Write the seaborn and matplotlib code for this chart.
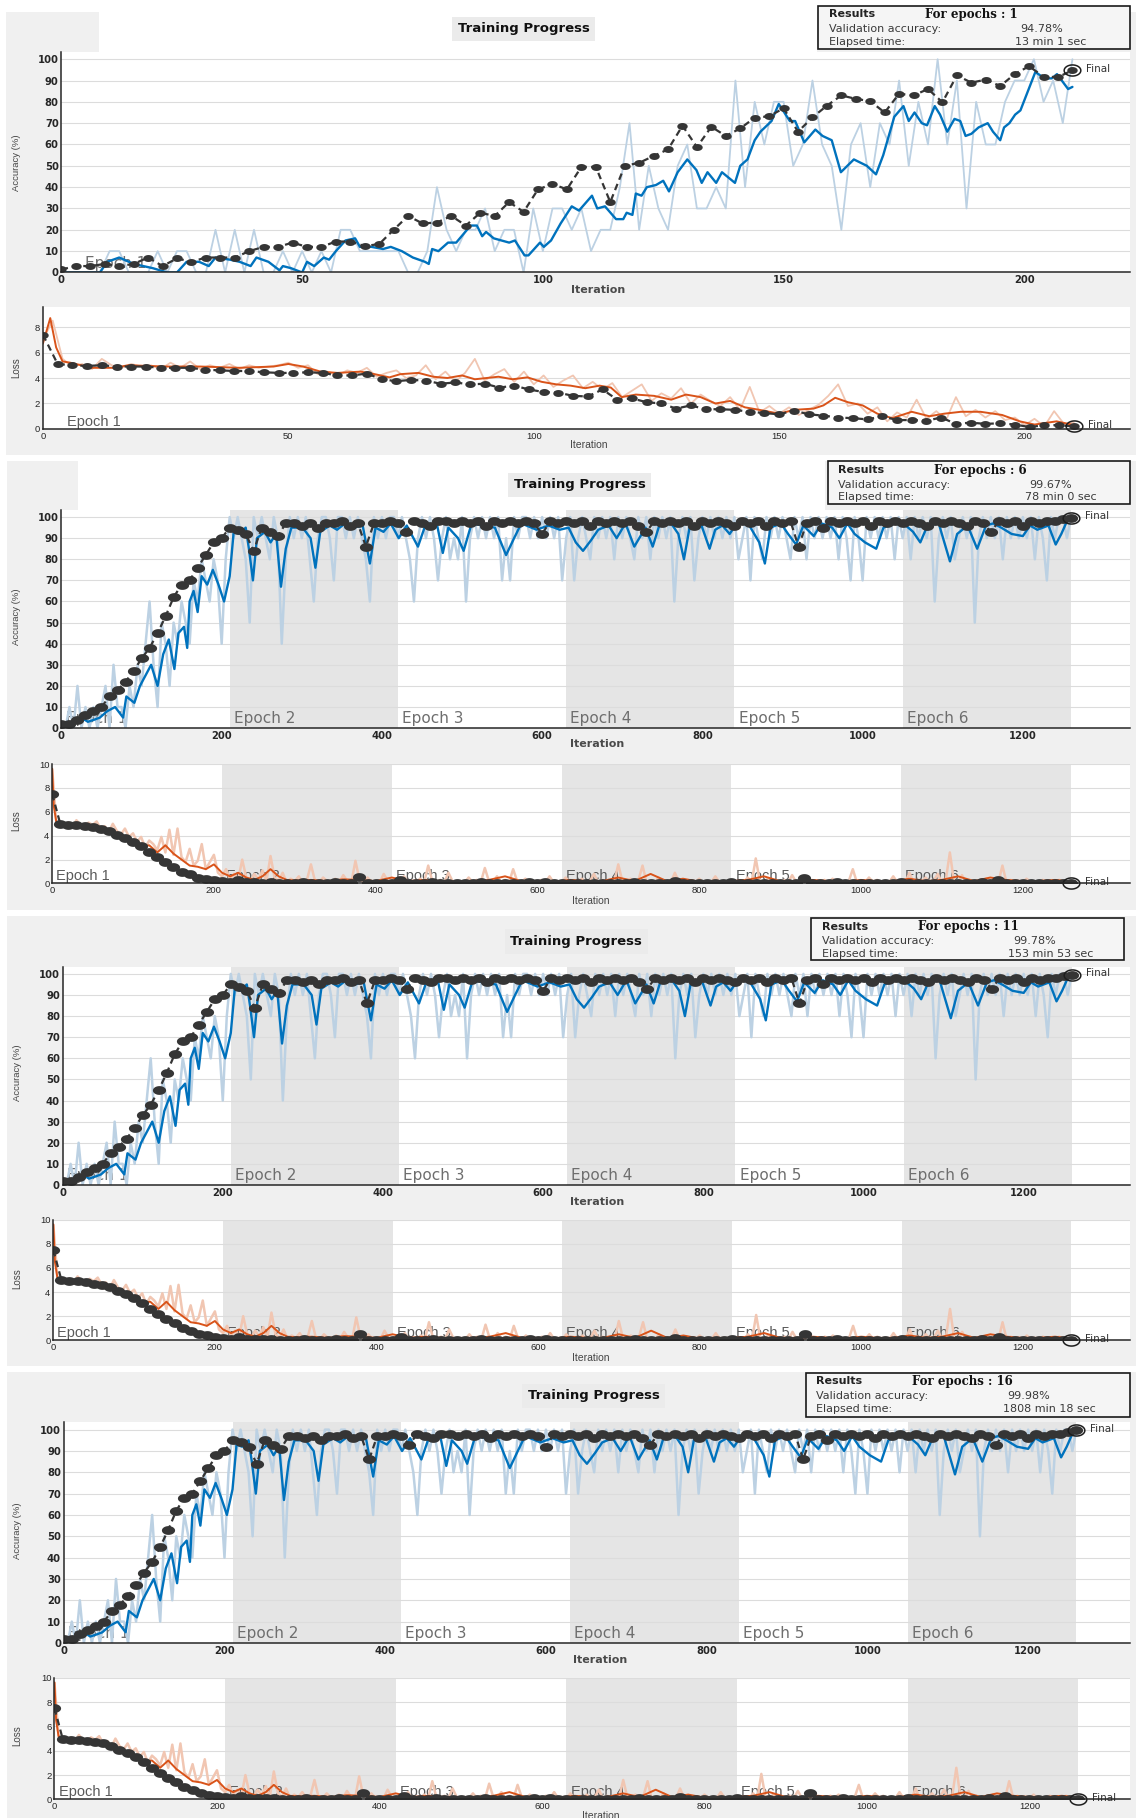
import numpy as np
import matplotlib
matplotlib.use("Agg")
import matplotlib.pyplot as plt
import matplotlib.path as mpath
from matplotlib.patches import Rectangle
import seaborn as sns

# ---------------- values ----------------
epochs_done = [1, 6, 11, 16]
val_acc_text = ["94.78%", "99.67%", "99.78%", "99.98%"]
elapsed_text = ["13 min 1 sec", "78 min 0 sec", "153 min 53 sec", "1808 min 18 sec"]
edges_run1 = [0, 210]
edges_run6 = [0, 210, 420, 630, 840, 1050, 1260]

# run 1: one epoch, raw values every 2 iterations, validation every 3
acc1_raw = [0, 0, 0, 0, 0, 10, 10, 0, 0, 0,
            10, 0, 10, 10, 0, 0, 20, 0, 20, 0,
            20, 0, 0, 10, 0, 10, 0, 10, 0, 20,
            20, 10, 10, 10, 10, 10, 0, 0, 10, 40,
            20, 10, 20, 20, 30, 10, 20, 20, 0, 30,
            10, 30, 30, 20, 30, 10, 20, 20, 40, 70,
            20, 50, 30, 20, 50, 60, 30, 30, 40, 30,
            90, 40, 80, 60, 80, 80, 50, 60, 90, 60,
            50, 20, 60, 70, 40, 70, 60, 90, 50, 80,
            60, 100, 60, 90, 30, 80, 60, 60, 80, 90,
            90, 100, 80, 90, 70, 100]
acc1_smooth = [(0, 0), (8, 0), (9.5, 5), (12, 7), (15, 4), (19, 2), (22, 0), (24, 0), (26, 5),
               (28.6, 5), (30.6, 3), (32, 7), (35, 6), (37, 5), (39.3, 3), (40.5, 7), (43, 5),
               (45.3, 1), (46, 3), (47.7, 2), (50, 0), (51, 5), (52.5, 3), (54.5, 7), (55.6, 6),
               (57, 10), (59, 15), (61, 16), (62, 12), (64.4, 12), (66.8, 11), (68.4, 12),
               (70.7, 10), (73, 7), (75.5, 5), (76.3, 4), (77, 11), (78.3, 10), (80.3, 14),
               (82, 14), (85, 22), (86.3, 22), (87.4, 17), (88.2, 19), (89.8, 16), (93, 14),
               (94.2, 15), (96.2, 8), (97, 8), (99.4, 14), (100.2, 12), (101.7, 15), (103.7, 23),
               (106, 31), (107.5, 29), (110.2, 36), (111.3, 30), (112.9, 31), (115.2, 25),
               (116.7, 25), (117.4, 28), (118.6, 27), (119.3, 37), (120.5, 36), (121.6, 40),
               (123.5, 41), (125, 43), (126.2, 38), (128, 47), (130, 53), (131.9, 48), (133, 42),
               (134.2, 47), (136, 42), (137.2, 47), (139.9, 42), (141, 50), (142.5, 53), (144, 62),
               (145.2, 66), (147.5, 71), (149, 79), (151.3, 71), (152.4, 71), (154.3, 61),
               (156.6, 67), (158.1, 64), (160, 62), (161.9, 47), (164.6, 53), (167.3, 50),
               (169.2, 46), (170.7, 55), (173, 73), (174.9, 78), (176, 71), (177.2, 75),
               (178.7, 70), (179.8, 69), (181.4, 78), (182.5, 74), (184, 66), (185.5, 72),
               (186.7, 71), (187.8, 64), (189, 65), (190.5, 68), (192.4, 70), (193.5, 66),
               (195, 62), (195.8, 68), (196.9, 70), (198.1, 74), (199.2, 76), (202.3, 94),
               (204.2, 91), (205.7, 91), (206.8, 93), (209.1, 86), (210, 87)]
acc1_val = [1.4, 3, 3, 4, 3, 4, 7, 3, 6.6, 5,
            7, 7, 7, 10, 12, 12, 14, 12, 12, 14.5,
            14.5, 12.4, 13.3, 20, 26.5, 23, 23.4, 26.5, 22, 28,
            26.5, 33, 28.4, 39, 41.4, 39, 49.5, 49.5, 33, 50,
            51.4, 54.6, 57.7, 68.8, 58.8, 68.3, 64, 67.5, 72.6, 73.2,
            77, 66, 72.7, 78.2, 83, 81.4, 80.3, 75, 83.8, 83,
            86, 79.8, 92.4, 89, 90.4, 87.4, 93, 96.7, 91.8, 91.6,
            94.78]
loss1_raw = [7.0, 8.5, 5.5, 4.9, 5.1, 4.7, 5.5, 5.0, 4.8, 5.1,
             4.9, 5.0, 4.7, 5.2, 4.8, 5.3, 4.7, 5.0, 4.8, 5.1,
             4.7, 5.0, 4.8, 4.9, 5.0, 5.2, 4.8, 5.0, 4.3, 4.5,
             4.2, 4.6, 4.4, 4.8, 4.1, 4.4, 4.6, 4.0, 4.2, 5.0,
             3.9, 4.5, 3.7, 4.4, 5.5, 3.8, 4.3, 4.7, 3.7, 4.5,
             3.5, 4.2, 3.3, 3.8, 4.2, 3.2, 3.7, 3.1, 3.6, 2.5,
             3.0, 3.5, 2.2, 2.8, 2.4, 3.2, 2.0, 2.7, 2.2, 1.8,
             2.5, 1.5, 3.3, 1.3, 1.8, 1.2, 1.7, 1.1, 1.5, 1.9,
             2.6, 3.5, 1.8, 2.0, 1.2, 1.7, 0.6, 1.3, 0.9, 2.3,
             0.8, 1.4, 0.7, 2.5, 1.0, 1.5, 0.9, 1.4, 0.7, 0.9,
             0.3, 0.8, 0.2, 1.4, 0.4, 0.5]
loss1_smooth = [(0, 6.7), (1.5, 8.7), (2.7, 6.4), (4, 5.3), (5.6, 5.2), (10, 4.8), (14.5, 4.8),
                (17.4, 5.0), (25, 4.9), (32, 4.9), (40, 4.8), (47, 4.9), (50, 5.1), (53, 4.9),
                (56.6, 4.5), (60, 4.4), (64.7, 4.5), (67.6, 4.3), (70.6, 4.05), (72.8, 4.3),
                (76.5, 4.4), (79.5, 4.1), (82.4, 4.0), (85.4, 4.2), (88, 3.9), (92.8, 4.1),
                (95.7, 3.9), (98.7, 4.05), (101.6, 3.7), (104.6, 3.5), (107.5, 3.4), (110.5, 3.2),
                (113.4, 3.4), (115.7, 3.25), (117.9, 2.5), (120.8, 2.7), (124.5, 2.6), (128, 2.3),
                (131, 2.7), (134, 2.5), (137, 2.0), (140, 2.2), (143, 1.7), (146, 1.5), (150, 1.2),
                (153, 1.5), (157, 1.6), (159, 1.85), (161.4, 2.45), (164, 2.1), (167, 1.85),
                (170, 1.2), (173, 0.85), (177, 1.35), (180.6, 1.0), (183.6, 1.2), (187, 1.35),
                (191, 1.35), (195.4, 1.1), (199, 0.6), (202, 0.35), (206.5, 0.6), (209.5, 0.35)]
loss1_val = [7.4, 5.1, 5.0, 4.95, 5.0, 4.9, 4.9, 4.9, 4.8, 4.8,
             4.8, 4.65, 4.6, 4.55, 4.55, 4.45, 4.4, 4.4, 4.45, 4.4,
             4.2, 4.2, 4.35, 3.9, 3.75, 3.85, 3.8, 3.55, 3.65, 3.5,
             3.55, 3.25, 3.4, 3.1, 2.9, 2.85, 2.6, 2.55, 3.1, 2.3,
             2.4, 2.1, 2.0, 1.6, 1.85, 1.55, 1.55, 1.5, 1.35, 1.25,
             1.15, 1.45, 1.15, 1.05, 0.9, 0.85, 0.75, 1.0, 0.7, 0.7,
             0.65, 0.9, 0.4, 0.5, 0.4, 0.45, 0.35, 0.15, 0.3, 0.3,
             0.2]

# runs 2-4 show the same six-epoch curves: raw every 5 iterations, validation every 10
acc6_raw = [0, 0, 10, 0, 20, 0, 10, 0, 10, 0,
            10, 20, 0, 30, 10, 10, 0, 20, 10, 30,
            20, 40, 60, 30, 10, 50, 40, 20, 50, 40,
            60, 50, 40, 70, 60, 80, 70, 60, 80, 70,
            40, 80, 100, 90, 100, 90, 80, 50, 100, 90,
            100, 90, 80, 100, 90, 40, 80, 100, 90, 100,
            90, 100, 80, 60, 90, 100, 100, 90, 70, 100,
            100, 90, 100, 90, 100, 90, 80, 60, 100, 90,
            100, 90, 100, 100, 90, 100, 90, 80, 60, 90,
            100, 90, 100, 90, 70, 90, 100, 80, 90, 80,
            100, 60, 90, 100, 90, 100, 90, 100, 90, 100,
            70, 90, 70, 100, 90, 100, 100, 90, 100, 90,
            100, 90, 100, 90, 100, 70, 90, 100, 70, 90,
            100, 90, 80, 100, 90, 100, 90, 100, 80, 100,
            90, 100, 90, 80, 100, 90, 100, 80, 100, 90,
            100, 90, 100, 60, 90, 100, 90, 100, 70, 90,
            100, 90, 100, 90, 100, 90, 100, 90, 100, 80,
            90, 100, 70, 100, 90, 80, 100, 90, 100, 90,
            100, 90, 80, 100, 90, 100, 80, 100, 90, 100,
            90, 100, 90, 100, 80, 100, 90, 70, 100, 90,
            70, 100, 90, 100, 90, 100, 90, 100, 80, 100,
            90, 100, 80, 100, 90, 100, 90, 100, 60, 90,
            100, 90, 100, 80, 90, 100, 90, 100, 50, 90,
            100, 90, 100, 90, 100, 80, 100, 90, 100, 90,
            100, 90, 100, 80, 100, 90, 70, 100, 90, 100,
            100, 90, 100]
acc6_smooth = [(0, 0), (10, 2), (20, 3), (29, 4), (33, 3), (41, 4), (48, 5), (57, 8), (67, 10),
               (77, 5), (81, 15), (91, 12), (98, 20), (105, 25), (112, 30), (120, 20), (127, 35),
               (134, 42), (141, 28), (146, 45), (153, 48), (157, 38), (160, 60), (165, 65),
               (170, 55), (175, 72), (182, 68), (189, 75), (196, 68), (203, 60), (210, 72),
               (215, 93), (222, 92), (230, 95), (234, 85), (239, 70), (244, 90), (254, 93),
               (261, 88), (268, 92), (274, 67), (280, 85), (287, 95), (301, 95), (311, 90),
               (317, 76), (323, 93), (335, 96), (344, 94), (354, 97), (364, 95), (376, 96),
               (385, 78), (392, 95), (402, 93), (411, 97), (421, 90), (431, 96), (445, 86),
               (455, 97), (469, 96), (476, 83), (483, 95), (495, 90), (502, 84), (512, 97),
               (526, 96), (541, 95), (555, 82), (565, 90), (574, 97), (593, 94), (608, 96),
               (622, 94), (633, 95), (642, 88), (651, 84), (661, 89), (670, 94), (683, 96),
               (693, 90), (704, 97), (715, 86), (729, 95), (738, 86), (747, 97), (761, 97),
               (770, 92), (777, 80), (784, 95), (798, 97), (809, 85), (816, 94), (825, 96),
               (834, 92), (843, 97), (857, 97), (871, 88), (878, 78), (885, 95), (898, 97),
               (907, 92), (917, 87), (926, 96), (939, 91), (949, 97), (962, 95), (971, 90),
               (981, 97), (990, 92), (1003, 88), (1017, 85), (1026, 95), (1040, 97), (1054, 96),
               (1063, 93), (1072, 88), (1081, 96), (1095, 97), (1109, 79), (1118, 92),
               (1131, 96), (1143, 85), (1154, 96), (1163, 97), (1173, 95), (1186, 92),
               (1200, 91), (1209, 96), (1218, 94), (1232, 96), (1241, 87), (1248, 92),
               (1255, 98), (1260, 99)]
acc6_val = [2, 2, 4, 6, 8, 10, 15, 18, 22, 27,
            33, 38, 45, 53, 62, 68, 70, 76, 82, 88,
            90, 95, 94, 92, 84, 95, 93, 91, 97, 97,
            96, 97, 95, 97, 97, 98, 96, 97, 86, 97,
            97, 98, 97, 93, 98, 97, 96, 98, 98, 97,
            98, 97, 98, 96, 98, 97, 98, 97, 98, 97,
            92, 98, 97, 98, 97, 98, 96, 98, 97, 98,
            97, 98, 96, 93, 98, 97, 98, 97, 98, 96,
            98, 97, 98, 97, 96, 98, 97, 98, 96, 98,
            97, 98, 86, 97, 98, 95, 98, 97, 98, 97,
            98, 96, 98, 97, 98, 97, 98, 97, 96, 98,
            97, 98, 97, 96, 98, 97, 93, 98, 97, 98,
            96, 98, 97, 98, 98, 99, 99.67]
loss6_raw = [9.6, 5.2, 5.0, 4.8, 5.1, 4.7, 5.3, 4.9, 4.8, 5.1,
             4.9, 5.2, 4.6, 4.8, 4.3, 5.0, 4.4, 4.1, 4.6, 3.9,
             4.2, 3.5, 3.9, 3.0, 3.6, 3.3, 2.8, 3.9, 2.6, 4.5,
             2.4, 4.6, 2.2, 1.8, 2.9, 1.5, 1.9, 3.3, 1.2, 1.8,
             2.4, 0.9, 0.6, 1.2, 0.4, 0.8, 0.3, 2.0, 0.5, 0.2,
             0.8, 0.3, 1.1, 0.2, 2.3, 0.5, 0.2, 0.9, 0.1, 0.4,
             0.2, 0.6, 0.1, 0.3, 1.6, 0.2, 0.1, 0.5, 0.2, 0.1,
             0.4, 0.1, 0.7, 0.2, 0.1, 1.9, 0.3, 0.1, 0.5, 0.1,
             0.2, 0.1, 0.8, 0.2, 0.1, 0.3, 0.1, 0.6, 0.1, 0.2,
             0.1, 0.4, 0.1, 1.5, 0.2, 0.1, 0.3, 0.1, 0.9, 0.2,
             0.1, 0.2, 0.1, 0.5, 0.1, 0.3, 0.1, 1.3, 0.2, 0.1,
             0.6, 0.1, 0.3, 0.1, 1.2, 0.2, 0.1, 0.4, 0.1, 0.2,
             0.1, 0.3, 0.1, 0.6, 0.1, 0.2, 0.1, 0.5, 0.1, 0.2,
             0.1, 0.4, 0.1, 0.2, 0.8, 0.1, 0.3, 0.1, 0.2, 0.1,
             1.6, 0.2, 0.1, 0.4, 0.1, 0.3, 1.5, 0.1, 0.2, 0.1,
             0.5, 0.1, 0.2, 0.1, 0.9, 0.1, 0.3, 0.1, 0.2, 0.1,
             0.4, 0.1, 0.2, 0.1, 0.6, 0.1, 0.2, 0.1, 0.3, 0.1,
             0.2, 0.1, 0.5, 0.1, 2.1, 0.2, 0.1, 0.4, 0.1, 0.2,
             0.1, 0.3, 0.1, 0.7, 0.1, 0.2, 0.1, 0.5, 0.1, 0.2,
             0.1, 0.3, 0.1, 0.4, 0.1, 0.2, 0.1, 0.2, 1.2, 0.1,
             0.2, 0.1, 0.5, 0.1, 0.3, 0.1, 0.2, 0.1, 0.6, 0.1,
             0.2, 0.1, 0.9, 0.1, 0.3, 0.1, 0.5, 0.1, 0.2, 0.8,
             0.1, 0.3, 2.6, 0.2, 0.1, 0.7, 0.1, 0.3, 0.1, 0.2,
             0.1, 0.4, 0.1, 0.2, 0.1, 1.5, 0.1, 0.3, 0.1, 0.2,
             0.1, 0.4, 0.1, 0.2, 0.1, 0.3, 0.1, 0.2, 0.1, 0.3,
             0.1, 0.2, 0.1]
loss6_smooth = [(0, 9.6), (2, 6.5), (5, 5.2), (10, 5.0), (20, 4.9), (30, 4.9), (40, 4.8),
                (50, 4.8), (60, 4.6), (70, 4.4), (80, 4.2), (90, 3.9), (100, 3.6), (110, 3.1),
                (120, 3.2), (130, 2.6), (140, 3.2), (150, 2.5), (160, 2.0), (170, 1.5),
                (180, 1.4), (190, 1.2), (200, 1.6), (210, 0.9), (220, 0.6), (230, 0.9),
                (240, 0.5), (250, 0.3), (260, 0.6), (270, 1.2), (280, 0.6), (290, 0.3),
                (300, 0.25), (320, 0.3), (340, 0.2), (360, 0.35), (380, 0.3), (400, 0.2),
                (420, 0.5), (440, 0.2), (460, 0.3), (480, 0.2), (500, 0.15), (520, 0.2),
                (540, 0.3), (560, 0.6), (580, 0.2), (600, 0.2), (620, 0.15), (640, 0.3),
                (660, 0.2), (680, 0.2), (700, 0.5), (720, 0.2), (740, 0.8), (760, 0.2),
                (780, 0.4), (800, 0.15), (820, 0.2), (840, 0.2), (860, 0.3), (880, 0.6),
                (900, 0.2), (920, 0.2), (940, 0.3), (960, 0.2), (980, 0.15), (1000, 0.3),
                (1020, 0.2), (1040, 0.2), (1060, 0.4), (1080, 0.2), (1100, 0.3), (1120, 0.6),
                (1140, 0.2), (1160, 0.5), (1180, 0.3), (1200, 0.2), (1220, 0.2), (1240, 0.3),
                (1260, 0.15)]
loss6_val = [7.5, 5.0, 4.9, 4.9, 4.8, 4.7, 4.6, 4.4, 4.1, 3.8,
             3.5, 3.1, 2.6, 2.2, 1.8, 1.4, 1.0, 0.8, 0.5, 0.4,
             0.3, 0.2, 0.15, 0.3, 0.1, 0.1, 0.08, 0.1, 0.06, 0.06,
             0.05, 0.1, 0.05, 0.05, 0.05, 0.1, 0.05, 0.05, 0.55, 0.05,
             0.05, 0.05, 0.05, 0.3, 0.05, 0.05, 0.05, 0.1, 0.05, 0.05,
             0.05, 0.05, 0.05, 0.1, 0.05, 0.05, 0.05, 0.05, 0.05, 0.1,
             0.05, 0.1, 0.05, 0.05, 0.05, 0.05, 0.05, 0.05, 0.05, 0.05,
             0.05, 0.05, 0.1, 0.05, 0.05, 0.05, 0.05, 0.2, 0.05, 0.05,
             0.05, 0.05, 0.05, 0.05, 0.1, 0.05, 0.05, 0.05, 0.05, 0.05,
             0.05, 0.05, 0.05, 0.5, 0.05, 0.05, 0.05, 0.1, 0.05, 0.05,
             0.05, 0.05, 0.05, 0.05, 0.05, 0.1, 0.05, 0.05, 0.05, 0.05,
             0.05, 0.05, 0.05, 0.05, 0.05, 0.1, 0.05, 0.3, 0.05, 0.05,
             0.05, 0.05, 0.05, 0.05, 0.05, 0.05, 0.02]

run1 = dict(edges=edges_run1, raw_step=2, val_step=3,
            acc_raw=acc1_raw, acc_smooth=acc1_smooth, acc_val=acc1_val,
            loss_raw=loss1_raw, loss_smooth=loss1_smooth, loss_val=loss1_val,
            xticks=[0, 50, 100, 150, 200], loss_ymax=9.55, loss_yticks=[0, 2, 4, 6, 8])
run6 = dict(edges=edges_run6, raw_step=5, val_step=10,
            acc_raw=acc6_raw, acc_smooth=acc6_smooth, acc_val=acc6_val,
            loss_raw=loss6_raw, loss_smooth=loss6_smooth, loss_val=loss6_val,
            xticks=[0, 200, 400, 600, 800, 1000, 1200], loss_ymax=10,
            loss_yticks=[0, 2, 4, 6, 8, 10])
runs = [run1, run6, run6, run6]

# ---------------- layout, in pixels of the 980x1568 view ----------------
W, H = 980, 1568
layout = [
    dict(bg=(5, 980, 10, 392), white=[(85, 705, 10, 45)], acc=(53, 975, 44.6, 235), acc_xmax=222,
         loss=(37, 975, 265, 370), loss_xmax=221.5, title=(452, 25), box=(706, 975, 5, 42),
         acc_ylab=(14, 140), acc_xlab=(516, 250), loss_ylab=(14, 317), loss_xlab=(508, 384),
         edx=17, ldx=17, ms=7.5, raw_lw=1.3),
    dict(bg=(6, 980, 398, 785), white=[(67, 712, 398, 440)], acc=(53, 975, 439.6, 628), acc_xmax=1334,
         loss=(45, 975, 659, 762), loss_xmax=1333, title=(500, 418), box=(714, 975, 398, 435),
         acc_ylab=(14, 532), acc_xlab=(515, 642), loss_ylab=(14, 708), loss_xlab=(510, 777),
         edx=3, ldx=3, ms=9.5, raw_lw=1.8),
    dict(bg=(6, 980, 790, 1178), white=[], acc=(54, 975, 833.6, 1022), acc_xmax=1333,
         loss=(46, 975, 1052, 1156), loss_xmax=1333, title=(497, 812), box=(700, 970, 792, 828),
         acc_ylab=(15, 925), acc_xlab=(515, 1037), loss_ylab=(15, 1103), loss_xlab=(510, 1171),
         edx=3, ldx=3, ms=9.5, raw_lw=1.8),
    dict(bg=(6, 980, 1183, 1568), white=[], acc=(55, 975, 1226.6, 1417), acc_xmax=1327,
         loss=(47, 975, 1447, 1552), loss_xmax=1324, title=(512, 1204), box=(695, 975, 1184, 1222),
         acc_ylab=(15, 1320), acc_xlab=(518, 1432), loss_ylab=(15, 1497), loss_xlab=(518, 1566),
         edx=3, ldx=3, ms=9.5, raw_lw=1.8),
]

PANEL = "#f0f0f0"
SHADE = "#e5e5e5"
RAW_BLUE = "#bcd1e3"
BLUE = "#0072bd"
RAW_ORANGE = "#f1c6b2"
ORANGE = "#d95319"
DARK = "#353535"

sns.set_theme(style="white")
plt.rcParams["font.family"] = ["DejaVu Sans"]

# stretched screenshot: markers are wider than tall
t = np.linspace(0, 2 * np.pi, 40)
ELLIPSE = mpath.Path(np.column_stack([1.5 * np.cos(t), np.sin(t)]), closed=True)


def frect(l, r, t_, b):
    return [l / W, 1 - b / H, (r - l) / W, (b - t_) / H]


def fxy(x, y):
    return x / W, 1 - y / H


def add_box(fig, l, r, t_, b, **kw):
    fig.add_artist(Rectangle((l / W, 1 - b / H), (r - l) / W, (b - t_) / H,
                             transform=fig.transFigure, **kw))


def style_axes(ax, xmax, ymax, xticks, yticks, acc):
    ax.set_xlim(0, xmax)
    ax.set_ylim(0, ymax)
    if acc:
        tk = dict(fontsize=7.2, fontweight="bold", color="#333333", family="DejaVu Sans")
    else:
        tk = dict(fontsize=6.8, color="#333333", family="Liberation Sans")
    ax.set_xticks(xticks, [str(v) for v in xticks], **tk)
    ax.set_yticks(yticks, [str(v) for v in yticks], **tk)
    ax.tick_params(direction="in", length=4, width=1, colors="#262626", pad=2)
    for side in ["top", "right"]:
        ax.spines[side].set_visible(False)
    for side in ["left", "bottom"]:
        ax.spines[side].set_color("#262626")
        ax.spines[side].set_linewidth(1.1)
        ax.spines[side].set_zorder(6)
    ax.set_axisbelow(True)
    ax.grid(axis="y", color="#dcdcdc", lw=0.8)
    ax.grid(axis="x", visible=False)
    ax.set_xlabel("")
    ax.set_ylabel("")
    ax.set_facecolor("white")


def draw_curves(ax, run, kind, lay):
    edges = run["edges"]
    for k in range(1, len(edges) - 1, 2):
        ax.axvspan(edges[k], edges[k + 1], color=SHADE, lw=0, zorder=0.2)
    for k in range(len(edges) - 1):
        if kind == "acc":
            ax.annotate(f"Epoch {k + 1}", (edges[k], 0), xytext=(lay["edx"], 3.5),
                        textcoords="offset points", fontsize=11, color="#6e6e6e",
                        va="baseline", zorder=1)
        else:
            ax.annotate(f"Epoch {k + 1}", (edges[k], 0), xytext=(lay["ldx"], 2.5),
                        textcoords="offset points", fontsize=10.5, color="#5a5a5a",
                        va="baseline", family="Liberation Sans", zorder=1)

    raw = run[kind + "_raw"]
    sm = run[kind + "_smooth"]
    val = run[kind + "_val"]
    raw_x = np.arange(len(raw)) * run["raw_step"]
    val_x = np.arange(len(val)) * run["val_step"]
    sm_x = [p[0] for p in sm]
    sm_y = [p[1] for p in sm]
    c_raw, c_sm = (RAW_BLUE, BLUE) if kind == "acc" else (RAW_ORANGE, ORANGE)

    sns.lineplot(x=raw_x, y=raw, ax=ax, color=c_raw, lw=lay["raw_lw"], estimator=None,
                 sort=False, legend=False, zorder=2)
    sns.lineplot(x=sm_x, y=sm_y, ax=ax, color=c_sm, lw=1.7 if kind == "acc" else 1.4,
                 estimator=None, sort=False, legend=False, zorder=3)
    sns.lineplot(x=val_x, y=val, ax=ax, color=DARK, lw=1.6, linestyle=(0, (3, 2)),
                 marker=ELLIPSE, markersize=lay["ms"], markeredgewidth=0, markerfacecolor=DARK,
                 estimator=None, sort=False, legend=False, zorder=4)
    ax.plot(val_x[-1], val[-1], marker=ELLIPSE, markersize=12, mfc="none", mec="#1e1e1e",
            mew=1.1, ls="none", zorder=5, clip_on=False)
    ax.annotate("Final", (val_x[-1], val[-1]), xytext=(10, 1), textcoords="offset points",
                fontsize=7.5, color="#333333", va="center", annotation_clip=False, zorder=6)


fig = plt.figure(figsize=(11.36, 18.18), dpi=100)
fig.patch.set_facecolor("white")

for i, (lay, run) in enumerate(zip(layout, runs)):
    add_box(fig, *lay["bg"], facecolor=PANEL, edgecolor="none", zorder=-10)
    for wb in lay["white"]:
        add_box(fig, *wb, facecolor="white", edgecolor="none", zorder=-9)

    ax = fig.add_axes(frect(*lay["acc"]))
    draw_curves(ax, run, "acc", lay)
    style_axes(ax, lay["acc_xmax"], 103.5, run["xticks"], list(range(0, 101, 10)), True)

    ax2 = fig.add_axes(frect(*lay["loss"]))
    draw_curves(ax2, run, "loss", lay)
    style_axes(ax2, lay["loss_xmax"], run["loss_ymax"], run["xticks"], run["loss_yticks"], False)

    # axis labels
    fig.text(*fxy(*lay["acc_ylab"]), "Accuracy (%)", rotation=90, ha="center", va="center",
             fontsize=6.8, color="#444444", family="Liberation Sans")
    fig.text(*fxy(*lay["acc_xlab"]), "Iteration", ha="center", va="center",
             fontsize=8, fontweight="bold", color="#4a4a4a")
    fig.text(*fxy(*lay["loss_ylab"]), "Loss", rotation=90, ha="center", va="center",
             fontsize=7, color="#444444", family="Liberation Sans")
    fig.text(*fxy(*lay["loss_xlab"]), "Iteration", ha="center", va="center",
             fontsize=7.5, color="#444444", family="Liberation Sans")

    # title
    fig.text(*fxy(*lay["title"]), "Training Progress", ha="center", va="center",
             fontsize=9.5, fontweight="bold", color="#111111",
             bbox=dict(facecolor="#ebebeb", edgecolor="none", pad=4))

    # results box
    l, r, t_, b = lay["box"]
    add_box(fig, l, r, t_, b, facecolor="#f5f5f5", edgecolor="#1a1a1a", lw=1.2, zorder=5)
    fig.text(*fxy(l + 9, t_ + 7.5), "Results", fontsize=8, fontweight="bold",
             color="#222222", va="center", zorder=6)
    fig.text(*fxy(l + 92, t_ + 7.5), f"For epochs : {epochs_done[i]}", fontsize=8.5,
             fontweight="bold", family="DejaVu Serif", color="#111111", va="center", zorder=6)
    fig.text(*fxy(l + 9, t_ + 20), "Validation accuracy:", fontsize=8, color="#3a3a3a",
             va="center", zorder=6)
    fig.text(*fxy(l + 174, t_ + 20), val_acc_text[i], fontsize=8, color="#3a3a3a",
             va="center", zorder=6)
    fig.text(*fxy(l + 9, t_ + 31), "Elapsed time:", fontsize=8, color="#3a3a3a",
             va="center", zorder=6)
    fig.text(*fxy(l + 170, t_ + 31), elapsed_text[i], fontsize=8, color="#3a3a3a",
             va="center", zorder=6)

fig.savefig("out.png", dpi=100, facecolor="white")
